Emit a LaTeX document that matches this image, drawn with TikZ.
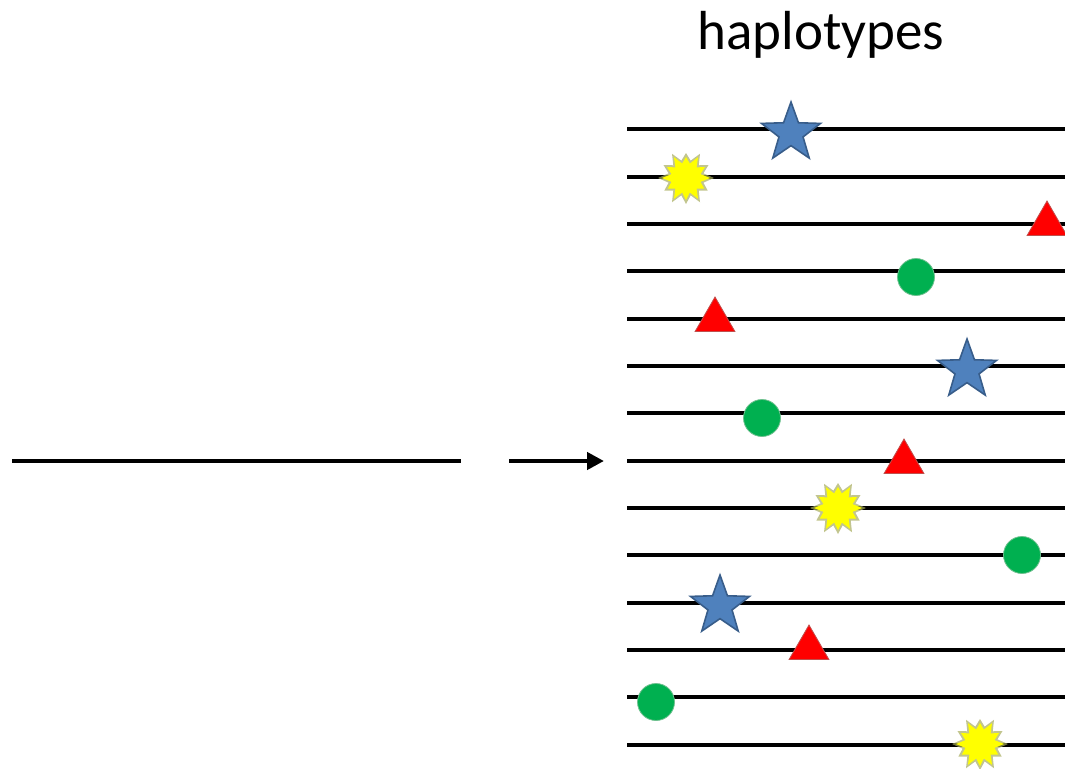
\documentclass[tikz,border=0pt]{standalone}
\usepackage{fontspec}
\setmainfont{Carlito}
\usetikzlibrary{shapes.geometric,arrows.meta}
\definecolor{starblue}{HTML}{4F81BD}
\definecolor{stardark}{HTML}{385D8A}
\definecolor{trired}{HTML}{FF0000}
\definecolor{tridark}{HTML}{C0504D}
\definecolor{dotgreen}{HTML}{00B050}
\definecolor{dotedge}{HTML}{6FC08F}
\definecolor{burstyellow}{HTML}{FFFF00}
\definecolor{burstedge}{HTML}{A8AD5E}
\tikzset{
  hap/.style={line width=4.6pt, black},
  bluestar/.style={star, star points=5, star point ratio=2.45, minimum size=62pt,
    inner sep=0pt, fill=starblue, draw=stardark, line width=1.6pt},
  redtri/.style={regular polygon, regular polygon sides=3, minimum size=46pt,
    inner sep=0pt, fill=trired, draw=tridark, line width=0.8pt},
  greendot/.style={circle, minimum size=37pt, inner sep=0pt, fill=dotgreen,
    draw=dotedge, line width=0.8pt},
  pics/burst/.style={code={
    \fill[burstedge, opacity=0.7]
      (0:28) -- (15:18) -- (30:25) -- (45:18) -- (60:28) -- (75:18) -- (90:26)
      -- (105:18) -- (120:28) -- (135:18) -- (150:25) -- (165:18) -- (180:28)
      -- (195:18) -- (210:26) -- (225:18) -- (240:28) -- (255:18) -- (270:25)
      -- (285:18) -- (300:28) -- (315:18) -- (330:26) -- (345:18) -- cycle;
    \fill[burstyellow]
      (0:24) -- (15:15) -- (30:21) -- (45:15) -- (60:24) -- (75:15) -- (90:22)
      -- (105:15) -- (120:24) -- (135:15) -- (150:21) -- (165:15) -- (180:24)
      -- (195:15) -- (210:22) -- (225:15) -- (240:24) -- (255:15) -- (270:21)
      -- (285:15) -- (300:24) -- (315:15) -- (330:22) -- (345:15) -- cycle;
  }},
  title/.style={font=\fontsize{55}{60}\selectfont, anchor=base}
}
\begin{document}
\begin{tikzpicture}[x=1pt, y=-1pt]
\useasboundingbox (0,0) rectangle (1065,768);

% heading
\node[title] (title) at (821,50) {haplotypes};

% single sequence and arrow
\coordinate (seqL) at (12,461);
\coordinate (seqR) at (461,461);
\draw[hap] (seqL) -- (seqR);
\coordinate (arrL) at (509,461);
\coordinate (arrR) at (604,461);
\draw[line width=4.6pt, -{Triangle[length=17pt,width=17pt]}] (arrL) -- (arrR);

% haplotype lines
\foreach \i/\y in {1/129,2/177,3/224,4/271,5/319,6/366,7/413,8/461,9/508,10/555,11/603,12/650,13/697,14/745}{
  \coordinate (h\i L) at (627,\y);
  \coordinate (h\i R) at (1065,\y);
  \draw[hap] (h\i L) -- (h\i R);
}

% variants
\node[bluestar] (s1) at (791,133) {};
\pic at (686,178) {burst};
\node[redtri] (t1) at (1047,224) {};
\node[greendot] (c1) at (916,277) {};
\node[redtri] (t2) at (715,320) {};
\node[bluestar] (s2) at (967,370) {};
\node[greendot] (c2) at (762,418) {};
\node[redtri] (t3) at (904,462) {};
\pic at (838,508) {burst};
\node[greendot] (c3) at (1022,555) {};
\node[bluestar] (s3) at (720,606) {};
\node[redtri] (t4) at (809,648) {};
\node[greendot] (c4) at (656,702) {};
\pic at (980,744) {burst};
\end{tikzpicture}
\end{document}
